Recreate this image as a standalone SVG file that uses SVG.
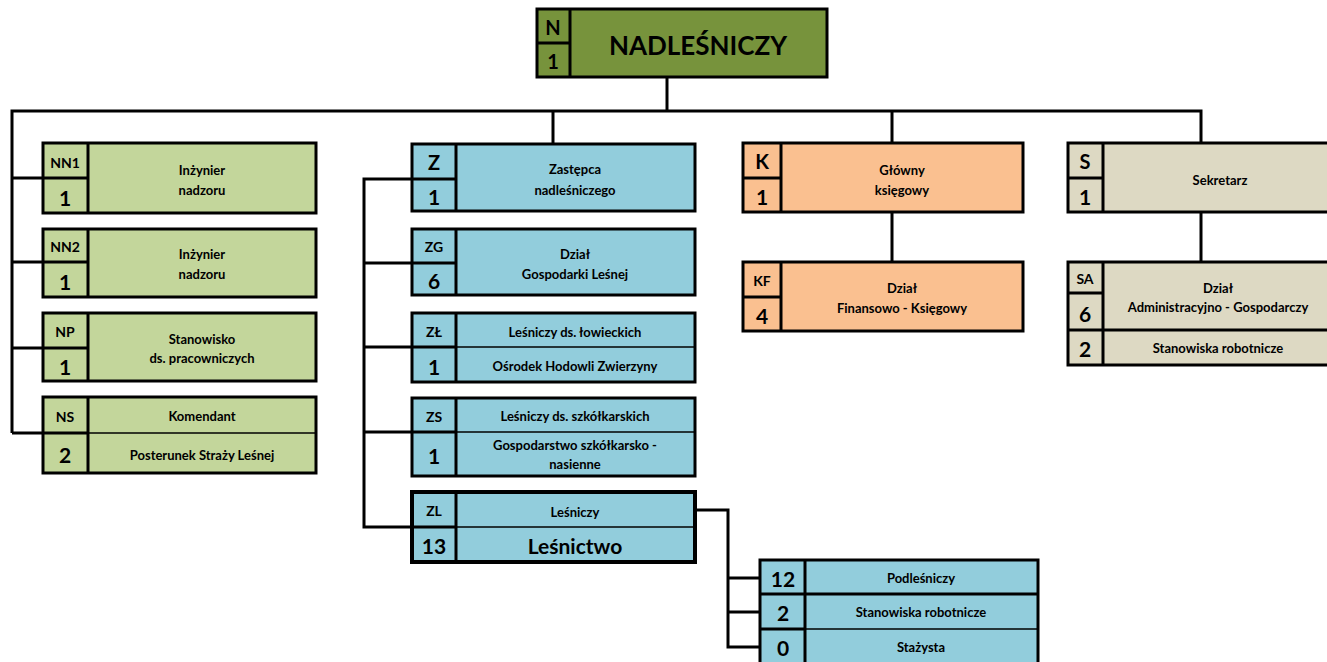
<svg xmlns="http://www.w3.org/2000/svg" width="1327" height="662" viewBox="0 0 1327 662">
<style>
text{font-family:Lato,"Noto Sans","Liberation Sans",sans-serif;font-weight:bold;fill:#000;text-anchor:middle;dominant-baseline:central}
.box{stroke:#000;stroke-width:3}
.g{fill:#C3D69B}.b{fill:#92CDDC}.o{fill:#FAC090}.s{fill:#DDD9C3}.n{fill:#77933C}
.dv{stroke:#000;stroke-width:3;fill:none}
.thin{stroke:#000;stroke-width:1.3;fill:none}
.t{font-size:13px}
.c{font-size:14px}
.big{font-size:21px}
.con{stroke:#000;stroke-width:3;fill:none}
</style>
<rect width="1327" height="662" fill="#fff"/>
<g id="connectors">
<path class="con" d="M667 77V111"/>
<path class="con" d="M12 433V111H1201V143"/>
<path class="con" d="M12 178H43M12 262H43M12 348H43M12 433H43"/>
<path class="con" d="M553 111V144"/>
<path class="con" d="M892 111V143M892 212V262"/>
<path class="con" d="M1201 212V262"/>
<path class="con" d="M412 179H364V527H412M364 263H412M364 347H412M364 432H412"/>
<path class="con" d="M695 510H728V647H760M728 578H760M728 612H760"/>
</g>
<g id="n-N">
<rect class="box n" x="537" y="9" width="290" height="68"/>
<path class="dv" d="M570 9V77M537 43H570"/>
<text x="553" y="27" style="font-size:20px">N</text>
<text x="553" y="61" style="font-size:20px">1</text>
<text x="698" y="45" style="font-size:26px">NADLEŚNICZY</text>
</g>
<g id="n-NN1">
<rect class="box g" x="43" y="143" width="273" height="70"/>
<path class="dv" d="M88 143V213M43 178H88"/>
<text class="c" x="65" y="162">NN1</text>
<text class="big" x="65" y="197">1</text>
<text class="t" x="202" y="170">Inżynier</text>
<text class="t" x="202" y="190">nadzoru</text>
</g>
<g id="n-NN2">
<rect class="box g" x="43" y="229" width="273" height="68"/>
<path class="dv" d="M88 229V297M43 262H88"/>
<text class="c" x="65" y="246">NN2</text>
<text class="big" x="65" y="281">1</text>
<text class="t" x="202" y="254">Inżynier</text>
<text class="t" x="202" y="274">nadzoru</text>
</g>
<g id="n-NP">
<rect class="box g" x="43" y="313" width="273" height="68"/>
<path class="dv" d="M88 313V381M43 348H88"/>
<text class="c" x="65" y="331">NP</text>
<text class="big" x="65" y="366">1</text>
<text class="t" x="202" y="339">Stanowisko</text>
<text class="t" x="202" y="358">ds. pracowniczych</text>
</g>
<g id="n-NS">
<rect class="box g" x="43" y="397" width="273" height="76"/>
<path class="dv" d="M88 397V473M43 433H88"/>
<path class="thin" d="M88 433H316"/>
<text class="c" x="65" y="416">NS</text>
<text class="big" x="65" y="454">2</text>
<text class="t" x="202" y="416">Komendant</text>
<text class="t" x="202" y="455">Posterunek Straży Leśnej</text>
</g>
<g id="n-Z">
<rect class="box b" x="412" y="144" width="283" height="67"/>
<path class="dv" d="M456 144V211M412 179H456"/>
<text x="434" y="162" style="font-size:20px">Z</text>
<text class="big" x="434" y="196">1</text>
<text class="t" x="575" y="169">Zastępca</text>
<text class="t" x="575" y="190">nadleśniczego</text>
</g>
<g id="n-ZG">
<rect class="box b" x="412" y="229" width="283" height="66"/>
<path class="dv" d="M456 229V295M412 263H456"/>
<text class="c" x="434" y="246">ZG</text>
<text class="big" x="434" y="280">6</text>
<text class="t" x="575" y="254">Dział</text>
<text class="t" x="575" y="274">Gospodarki Leśnej</text>
</g>
<g id="n-ZL1">
<rect class="box b" x="412" y="313" width="283" height="69"/>
<path class="dv" d="M456 313V382M412 347H456"/>
<path class="thin" d="M456 347H695"/>
<text class="c" x="434" y="331">ZŁ</text>
<text class="big" x="434" y="366">1</text>
<text class="t" x="575" y="332">Leśniczy ds. łowieckich</text>
<text class="t" x="575" y="366">Ośrodek Hodowli Zwierzyny</text>
</g>
<g id="n-ZS">
<rect class="box b" x="412" y="398" width="283" height="78"/>
<path class="dv" d="M456 398V476M412 432H456"/>
<path class="thin" d="M456 432H695"/>
<text class="c" x="434" y="416">ZS</text>
<text class="big" x="434" y="455">1</text>
<text class="t" x="575" y="416">Leśniczy ds. szkółkarskich</text>
<text class="t" x="575" y="445">Gospodarstwo szkółkarsko -</text>
<text class="t" x="575" y="464">nasienne</text>
</g>
<g id="n-ZL">
<rect class="box b" x="412" y="492" width="283" height="70" style="stroke-width:4"/>
<path class="dv" d="M456 492V562M412 527H456"/>
<path class="thin" d="M456 527H695"/>
<text class="c" x="434" y="510">ZL</text>
<text class="big" x="434" y="545">13</text>
<text class="t" x="575" y="512">Leśniczy</text>
<text x="575" y="545" style="font-size:21px">Leśnictwo</text>
</g>
<g id="n-ZLsub">
<rect class="box b" x="760" y="560" width="278" height="104"/>
<path class="dv" d="M805 560V664M760 594H1038"/>
<path class="thin" d="M760 629H1038"/>
<path class="dv" d="M760 629H805"/>
<text class="big" x="783" y="578">12</text>
<text class="big" x="783" y="612">2</text>
<text class="big" x="783" y="647">0</text>
<text class="t" x="921" y="578">Podleśniczy</text>
<text class="t" x="921" y="612">Stanowiska robotnicze</text>
<text class="t" x="921" y="647">Stażysta</text>
</g>
<g id="n-K">
<rect class="box o" x="743" y="143" width="280" height="69"/>
<path class="dv" d="M781 143V212M743 178H781"/>
<text x="762" y="161" style="font-size:20px">K</text>
<text class="big" x="762" y="196">1</text>
<text class="t" x="902" y="170">Główny</text>
<text class="t" x="902" y="190">księgowy</text>
</g>
<g id="n-KF">
<rect class="box o" x="743" y="262" width="280" height="69"/>
<path class="dv" d="M781 262V331M743 297H781"/>
<text class="c" x="762" y="280">KF</text>
<text class="big" x="762" y="315">4</text>
<text class="t" x="902" y="288">Dział</text>
<text class="t" x="902" y="308">Finansowo - Księgowy</text>
</g>
<g id="n-S">
<rect class="box s" x="1068" y="143" width="264" height="69"/>
<path class="dv" d="M1103 143V212M1068 178H1103"/>
<text x="1085" y="161" style="font-size:20px">S</text>
<text class="big" x="1085" y="196">1</text>
<text class="t" x="1220" y="180">Sekretarz</text>
</g>
<g id="n-SA">
<rect class="box s" x="1068" y="262" width="264" height="103"/>
<path class="dv" d="M1103 262V365M1068 293H1103M1068 330H1332"/>
<text class="c" x="1085" y="278">SA</text>
<text class="big" x="1085" y="313">6</text>
<text class="big" x="1085" y="348">2</text>
<text class="t" x="1218" y="288">Dział</text>
<text class="t" x="1218" y="307">Administracyjno - Gospodarczy</text>
<text class="t" x="1218" y="348">Stanowiska robotnicze</text>
</g>
</svg>
